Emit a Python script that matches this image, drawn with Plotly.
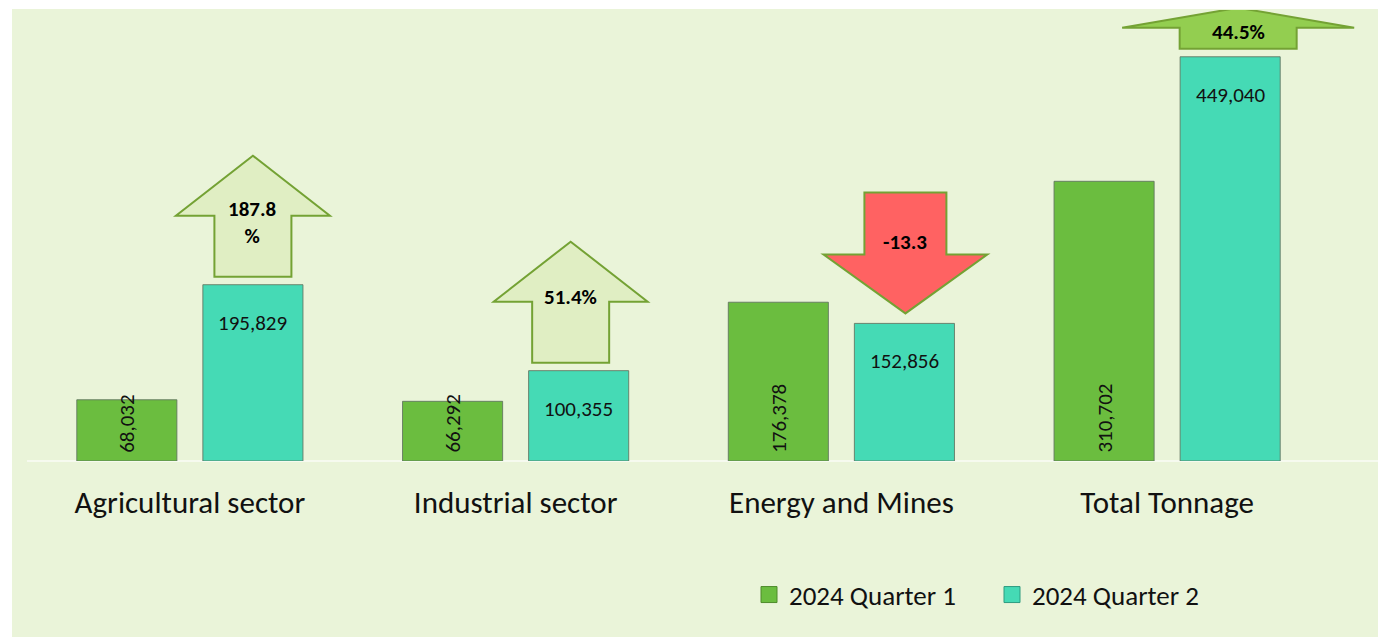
import plotly.graph_objects as go

# ---------------- data ----------------
categories = ["Agricultural sector", "Industrial sector", "Energy and Mines", "Total Tonnage"]
series_names = ["2024 Quarter 1", "2024 Quarter 2"]
q1_values = [68032, 66292, 176378, 310702]
q2_values = [195829, 100355, 152856, 449040]
change_labels = ["<b>187.8</b><br><b>%</b>", "<b>51.4%</b>", "<b>-13.3</b>", "<b>44.5%</b>"]
change_direction = ["up", "up", "down", "up"]

# ---------------- styling / layout ----------------
W, H = 1373, 629
ML, MR, MT, MB = 19, 0, 2, 176
PW = W - ML - MR
PH = H - MT - MB
PX_CAT = 325.75
XMAX = -0.5 + PW / PX_CAT
YMAX = 501000
BARGAP = 0.226
BARGROUPGAP = 0.206
PX_Y = PH / YMAX

BG = "#EAF4D9"
Q1_COLOR = "#6BBD3F"
Q2_COLOR = "#45DAB5"
EDGE = "rgba(95,115,95,0.85)"
FONT = "Carlito, Calibri, Lato, sans-serif"

# arrow styles: (head half width, shaft half width, head height, shaft height, gap, x shift) in px
arrow_geom = [(77, 38.5, 60, 61, 8, 0), (77, 38.5, 60, 61, 8, -8),
              (82, 41, 59, 62, 10, 1), (116, 58.5, 20, 21, 8, 8)]
arrow_fill = ["#E0EEC3", "#E0EEC3", "#FF6262", "#93CE50"]
arrow_text_offset = [54, 66, 71, 17]

fig = go.Figure()
xs_idx = list(range(len(categories)))
fig.add_bar(x=xs_idx, y=q1_values, name=series_names[0], showlegend=False,
            marker=dict(color=Q1_COLOR, line=dict(color=EDGE, width=1)))
fig.add_bar(x=xs_idx, y=q2_values, name=series_names[1], showlegend=False,
            marker=dict(color=Q2_COLOR, line=dict(color=EDGE, width=1)))
# legend entries with larger square swatches
fig.add_scatter(x=[None], y=[None], mode="markers", name=series_names[0],
                marker=dict(symbol="square", size=16, color=Q1_COLOR,
                            line=dict(color="#4E8A2A", width=1)))
fig.add_scatter(x=[None], y=[None], mode="markers", name=series_names[1],
                marker=dict(symbol="square", size=16, color=Q2_COLOR,
                            line=dict(color="#2E9C80", width=1)))

off = (1 - BARGAP) / 4  # center offset of each bar inside its group

shapes = []
annotations = []

# background panel
shapes.append(dict(type="rect", xref="paper", yref="paper", layer="below",
                   x0=(4 - ML) / PW, x1=(W + 10 - ML) / PW,
                   y0=(MT + PH - H) / PH, y1=(MT + PH - 1) / PH,
                   fillcolor=BG, line=dict(width=0)))

dx = lambda p: p / PX_CAT
dy = lambda p: p / PX_Y

for i, cat in enumerate(categories):
    # Q1 vertical label
    annotations.append(dict(x=i - off, y=0, xref="x", yref="y", text=f"{q1_values[i]:,}",
                            textangle=-90, showarrow=False, yanchor="bottom", yshift=6,
                            font=dict(family=FONT, size=21, color="#111")))
    # Q2 label
    annotations.append(dict(x=i + off, y=q2_values[i], xref="x", yref="y", text=f"{q2_values[i]:,}",
                            showarrow=False, yanchor="middle", yshift=-38,
                            font=dict(family=FONT, size=21, color="#111")))
    # arrow
    hhw, shw, hh, sh, gap, xs = arrow_geom[i]
    cx = i + off + dx(xs)
    base = q2_values[i] + dy(gap)
    if change_direction[i] == "up":
        pts = [(cx - dx(shw), base), (cx - dx(shw), base + dy(sh)), (cx - dx(hhw), base + dy(sh)),
               (cx, base + dy(sh + hh)), (cx + dx(hhw), base + dy(sh)), (cx + dx(shw), base + dy(sh)),
               (cx + dx(shw), base)]
    else:
        pts = [(cx, base), (cx - dx(hhw), base + dy(hh)), (cx - dx(shw), base + dy(hh)),
               (cx - dx(shw), base + dy(hh + sh)), (cx + dx(shw), base + dy(hh + sh)),
               (cx + dx(shw), base + dy(hh)), (cx + dx(hhw), base + dy(hh))]
    path = "M " + " L ".join(f"{x},{y}" for x, y in pts) + " Z"
    shapes.append(dict(type="path", xref="x", yref="y", path=path, fillcolor=arrow_fill[i],
                       line=dict(color="#74A234", width=2), layer="above"))
    annotations.append(dict(x=cx, y=base + dy(arrow_text_offset[i]), xref="x", yref="y",
                            text=change_labels[i], showarrow=False, yanchor="middle",
                            font=dict(family=FONT, size=21, color="#000")))

fig.update_layout(
    width=W, height=H,
    margin=dict(l=ML, r=MR, t=MT, b=MB, pad=0),
    paper_bgcolor="white", plot_bgcolor="rgba(0,0,0,0)",
    barmode="group", bargap=BARGAP, bargroupgap=BARGROUPGAP,
    shapes=shapes, annotations=annotations,
    showlegend=True,
    legend=dict(orientation="h", x=(741 - ML) / PW, y=(MT + PH - 587) / PH, yanchor="middle",
                xanchor="left", font=dict(family=FONT, size=27, color="#111"),
                bgcolor="rgba(0,0,0,0)", entrywidth=198, entrywidthmode="pixels",
                itemsizing="trace"),
    font=dict(family=FONT),
)
fig.update_xaxes(range=[-0.5, XMAX], tickmode="array",
                 tickvals=xs_idx, ticktext=categories,
                 tickfont=dict(family=FONT, size=31, color="#111"), ticks="",
                 ticklabelstandoff=20, showgrid=False, showline=False, zeroline=False)
fig.update_yaxes(range=[0, YMAX], visible=True, showticklabels=False, showgrid=False,
                 zeroline=True, zerolinecolor="#F6FAEF", zerolinewidth=2, showline=False)

fig.write_html("out.html")
